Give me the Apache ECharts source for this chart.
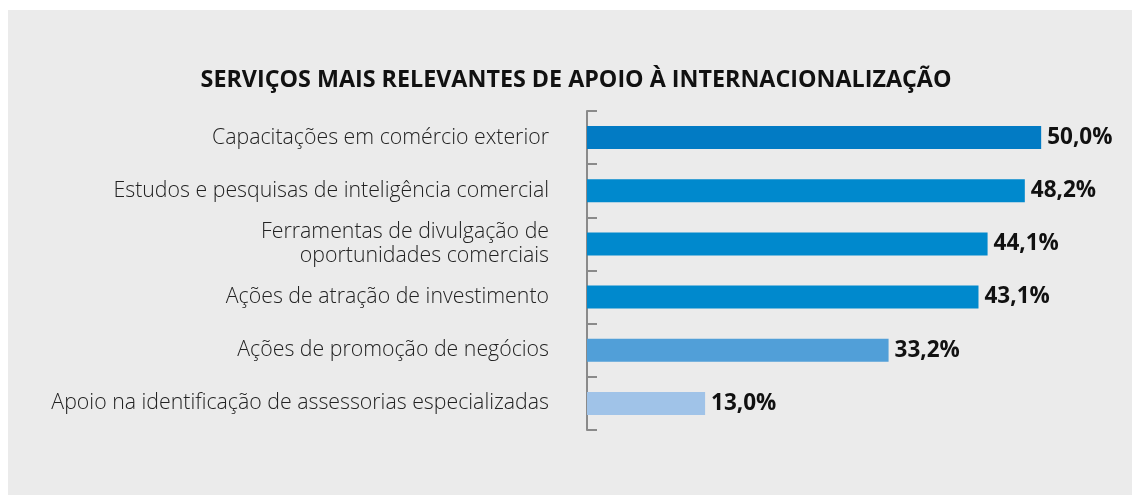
<!DOCTYPE html>
<html>
<head>
<meta charset="utf-8">
<script src="https://cdn.jsdelivr.net/npm/echarts@6/dist/echarts.min.js"></script>
<style>
  html, body { margin: 0; padding: 0; background: #ffffff; }
  #chart { width: 1132px; height: 495px; }
</style>
</head>
<body>
<div id="chart"></div>
<script>
// Services, top to bottom
const categories = [
  'Capacitações em comércio exterior',
  'Estudos e pesquisas de inteligência comercial',
  'Ferramentas de divulgação de\noportunidades comerciais',
  'Ações de atração de investimento',
  'Ações de promoção de negócios',
  'Apoio na identificação de assessorias especializadas'
];
const values = [50.0, 48.2, 44.1, 43.1, 33.2, 13.0];
const barColors = ['#027bc4', '#0089cd', '#0089cd', '#0089cd', '#519fd8', '#a0c3e8'];
const titleText = 'SERVIÇOS MAIS RELEVANTES DE APOIO À INTERNACIONALIZAÇÃO';

const chart = echarts.init(document.getElementById('chart'));
chart.setOption({
  animation: false,
  textStyle: { fontFamily: '"Open Sans", sans-serif' },
  graphic: [{
    type: 'rect',
    z: -10,
    silent: true,
    shape: { x: 8, y: 10, width: 1124, height: 485 },
    style: { fill: '#ebebeb' }
  }],
  title: {
    text: titleText,
    left: 571,
    top: 64,
    textAlign: 'center',
    textStyle: { fontFamily: '"Open Sans", sans-serif', fontWeight: 'bold', fontSize: 23.3, color: '#111111' }
  },
  grid: { left: 587, top: 111, bottom: 65, width: 546, containLabel: false },
  xAxis: {
    type: 'value',
    min: 0,
    max: 60,
    show: false
  },
  yAxis: {
    type: 'category',
    inverse: true,
    data: categories,
    axisLine: { show: true, lineStyle: { color: '#8a8a8a', width: 2 } },
    axisTick: { show: true, inside: true, length: 10, lineStyle: { color: '#8a8a8a', width: 2 } },
    axisLabel: {
      margin: 38,
      fontFamily: '"Open Sans", sans-serif',
      fontWeight: 300,
      fontSize: 21.3,
      lineHeight: 24,
      color: '#222222',
      align: 'right'
    }
  },
  series: [{
    type: 'bar',
    barWidth: 23,
    data: values.map((v, i) => ({ value: v, itemStyle: { color: barColors[i] } })),
    label: {
      show: true,
      position: 'right',
      distance: 6,
      fontFamily: '"Open Sans", sans-serif',
      fontWeight: 'bold',
      fontSize: 22.5,
      color: '#111111',
      formatter: p => p.value.toFixed(1).replace('.', ',') + '%'
    }
  }]
});
</script>
</body>
</html>
